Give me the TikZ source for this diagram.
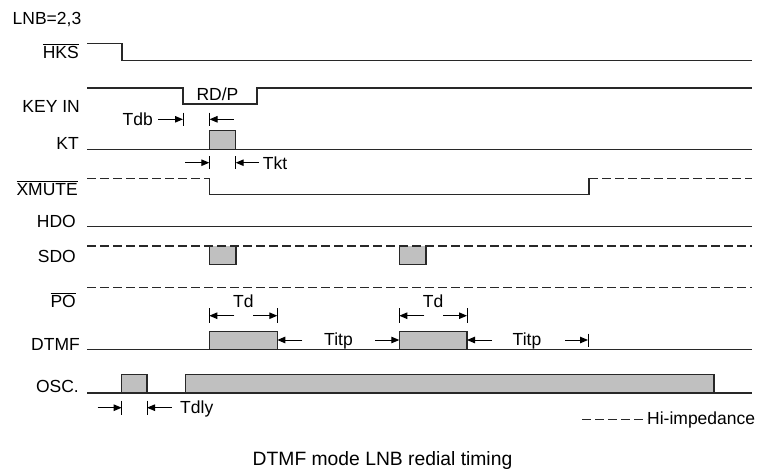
\documentclass[tikz,border=0pt]{standalone}
\usepackage{fontspec}
\setmainfont{Liberation Sans}
\usetikzlibrary{arrows.meta,calc}
\definecolor{pulse_gray}{RGB}{192, 192, 192}
\definecolor{wave_black}{RGB}{40, 40, 40}

\begin{document}
\begin{tikzpicture}[
    x=1pt, y=-1pt,
    font=\fontsize{17.5}{20}\selectfont,
    >={Triangle[length=8pt,width=6.5pt]},
    % Styles
    sig_label/.style={anchor=base east, inner sep=0pt},
    time_label/.style={anchor=base, inner sep=0pt},
    sig_line/.style={line width=1.1pt, draw=wave_black},
    hiz_line/.style={sig_line, dash pattern=on 9pt off 4pt},
    pulse_box/.style={line width=1.1pt, draw=wave_black, fill=pulse_gray},
    time_arrow/.style={->, line width=1pt, draw=black},
    tick_mark/.style={line width=1pt, draw=black}
]
\useasboundingbox (0,0) rectangle (763,472);

% 1. Signal names
\node[anchor=base west, inner sep=0pt] (lnb) at (12.5,24) {LNB=2,3};
\node[sig_label] (hks) at (79,58) {$\overline{\mbox{HKS}}$};
\node[sig_label] (keyin) at (80,112) {KEY IN};
\node[sig_label] (kt) at (79,149) {KT};
\node[sig_label] (xmute) at (78,195) {$\overline{\mbox{XMUTE}}$};
\node[sig_label] (hdo) at (76,227) {HDO};
\node[sig_label] (sdo) at (76,262) {SDO};
\node[sig_label] (po) at (76,307) {$\overline{\mbox{PO}}$};
\node[sig_label] (dtmf) at (80,350) {DTMF};
\node[sig_label] (osc) at (79,392) {OSC.};

% 2. Waveforms
% HKS
\draw[sig_line] (87,43.5) -- (122,43.5) -- (122,60.7) -- (752,60.7);

% KEY IN
\draw[sig_line] (87,88) -- (183,88) -- (183,104) -- (257,104) -- (257,88) -- (752,88);
\node[time_label] (rdp) at (217.5,100) {RD/P};

% KT
\draw[sig_line] (87,149.3) -- (752,149.3);
\draw[pulse_box] (209.3,149.3) rectangle (235.7,130.7);

% XMUTE
\draw[hiz_line] (87,178.3) -- (209.3,178.3);
\draw[sig_line] (209.3,178.3) -- (209.3,194.3) -- (589,194.3) -- (589,178.3);
\draw[hiz_line] (589,178.3) -- (752,178.3);

% HDO
\draw[sig_line] (87,226.7) -- (752,226.7);

% SDO
\foreach \xa/\xb in {209.3/236, 399.3/426} {
    \fill[pulse_gray] (\xa,246) rectangle (\xb,264.3);
    \draw[sig_line] (\xa,246) -- (\xa,264.3) -- (\xb,264.3) -- (\xb,246);
}
\draw[hiz_line] (87,246) -- (752,246);

% PO
\draw[hiz_line] (87,287.7) -- (752,287.7);

% DTMF
\draw[sig_line] (87,349.5) -- (752,349.5);
\draw[pulse_box] (209.3,349.5) rectangle (277.3,331.7);
\draw[pulse_box] (399.3,349.5) rectangle (467,331.7);

% OSC.
\draw[sig_line] (87,393) -- (752,393);
\draw[pulse_box] (121.7,393) rectangle (147,374.7);
\draw[pulse_box] (185.7,393) rectangle (714,374.7);

% 3. Timing marks
% Tdb
\coordinate (tdb_l) at (183,119.3);
\coordinate (tdb_r) at (209.5,119.3);
\node[anchor=base east, inner sep=0pt] (tdb) at (153,125) {Tdb};
\draw[tick_mark] ($(tdb_l)+(0,-6.7)$) -- ($(tdb_l)+(0,6.7)$);
\draw[tick_mark] ($(tdb_r)+(0,-6.7)$) -- ($(tdb_r)+(0,6.7)$);
\draw[time_arrow] ($(tdb_l)+(-25,0)$) -- (tdb_l);
\draw[time_arrow] ($(tdb_r)+(24,0)$) -- (tdb_r);

% Tkt
\coordinate (tkt_l) at (209.3,162.7);
\coordinate (tkt_r) at (235.7,162.7);
\node[anchor=base west, inner sep=0pt] (tkt) at (262.7,169) {Tkt};
\draw[tick_mark] ($(tkt_l)+(0,-6.7)$) -- ($(tkt_l)+(0,6.7)$);
\draw[tick_mark] ($(tkt_r)+(0,-6.7)$) -- ($(tkt_r)+(0,6.7)$);
\draw[time_arrow] ($(tkt_l)+(-24,0)$) -- (tkt_l);
\draw[time_arrow] ($(tkt_r)+(23.3,0)$) -- (tkt_r);

% Td
\foreach \xa/\xb/\nm in {209.3/277.3/one, 399.3/467/two} {
    \coordinate (td_l_\nm) at (\xa,315.7);
    \coordinate (td_r_\nm) at (\xb,315.7);
    \node[time_label] (td_\nm) at ($(td_l_\nm)!0.5!(td_r_\nm)+(0,-8.7)$) {Td};
    \draw[tick_mark] ($(td_l_\nm)+(0,-7.3)$) -- ($(td_l_\nm)+(0,7.3)$);
    \draw[tick_mark] ($(td_r_\nm)+(0,-7.3)$) -- ($(td_r_\nm)+(0,7.3)$);
    \draw[time_arrow] ($(td_l_\nm)+(25,0)$) -- (td_l_\nm);
    \draw[time_arrow] ($(td_r_\nm)+(-24,0)$) -- (td_r_\nm);
}

% Titp
\coordinate (titp_a) at (277.3,340);
\coordinate (titp_b) at (399.3,340);
\coordinate (titp_c) at (467,340);
\coordinate (titp_d) at (588,340);
\node[time_label] (titp_one) at (338.5,345) {Titp};
\node[time_label] (titp_two) at (527,345) {Titp};
\draw[time_arrow] ($(titp_a)+(25,0)$) -- (titp_a);
\draw[time_arrow] ($(titp_b)+(-24,0)$) -- (titp_b);
\draw[time_arrow] ($(titp_c)+(25,0)$) -- (titp_c);
\draw[tick_mark] ($(titp_d)+(0,-6.5)$) -- ($(titp_d)+(0,6.5)$);
\draw[time_arrow] ($(titp_d)+(-23,0)$) -- (titp_d);

% Tdly
\coordinate (tdly_l) at (121.7,407.7);
\coordinate (tdly_r) at (147,407.7);
\node[anchor=base west, inner sep=0pt] (tdly) at (180,413.3) {Tdly};
\draw[tick_mark] ($(tdly_l)+(0,-7)$) -- ($(tdly_l)+(0,7)$);
\draw[tick_mark] ($(tdly_r)+(0,-7)$) -- ($(tdly_r)+(0,7)$);
\draw[time_arrow] ($(tdly_l)+(-24,0)$) -- (tdly_l);
\draw[time_arrow] ($(tdly_r)+(24.7,0)$) -- (tdly_r);

% 4. Legend and caption
\coordinate (legend_start) at (582,419.3);
\node[anchor=base west, inner sep=0pt] (legend) at (647,424) {Hi-impedance};
\draw[hiz_line, line width=0.8pt] (legend_start) -- (legend_start -| legend.west);
\node[time_label, font=\fontsize{19.3}{22}\selectfont] (caption) at (382.5,465) {DTMF mode LNB redial timing};

\end{tikzpicture}
\end{document}
